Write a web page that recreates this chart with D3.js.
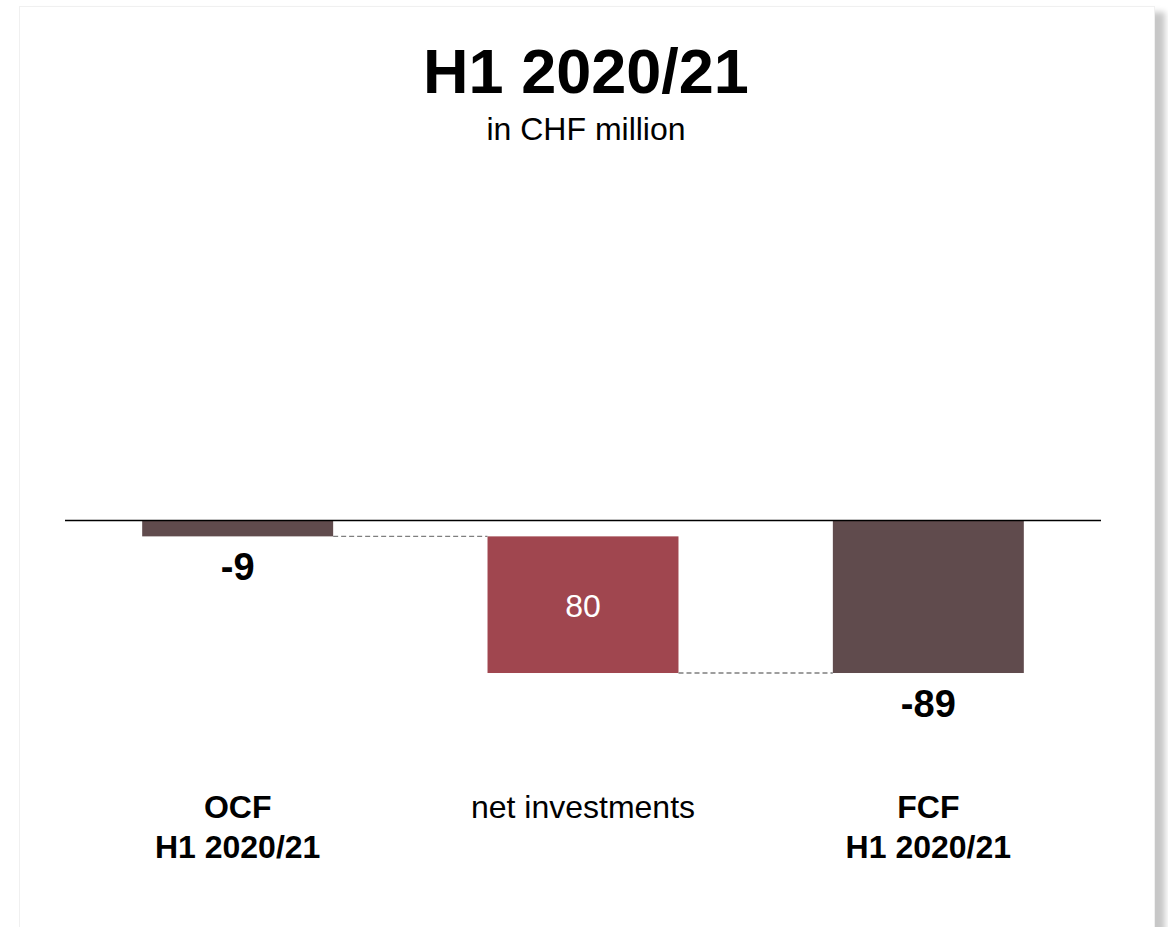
<!DOCTYPE html>
<html>
<head>
<meta charset="utf-8">
<script src="https://cdn.jsdelivr.net/npm/d3@7"></script>
<style>
  html, body { margin: 0; padding: 0; background: #ffffff; }
  body { width: 1168px; height: 927px; position: relative; overflow: hidden; }
  #card {
    position: absolute; left: 19px; top: 6px; width: 1134px; height: 960px;
    background: #ffffff; border: 1px solid #f0f0f0;
    box-shadow: 10px 6px 6px rgba(0,0,0,0.22);
  }
  svg { position: absolute; left: 0; top: 0; }
  text { font-family: "Liberation Sans", Arial, sans-serif; }
</style>
</head>
<body>
<div id="card"></div>
<svg id="chart" width="1168" height="927"></svg>
<script>
// Waterfall: operating cash flow, net investments, free cash flow (CHF million)
const categories = ["OCF|H1 2020/21", "net investments", "FCF|H1 2020/21"];
const boldCategory = [true, false, true];
const kinds = ["total", "delta", "total"];
const values = [-9, 80, -89];           // net investments shown as outflow of 80
const valueLabels = ["-9", "80", "-89"];
const barColors = ["#604b4d", "#a0464f", "#604b4d"];

const svg = d3.select("#chart");

const x = d3.scaleBand()
  .domain(categories)
  .range([65, 1101])
  .paddingInner(0.447)
  .paddingOuter(0.2235);

const y = d3.scaleLinear()
  .domain([-100, 0])
  .range([691.8, 521]);

// running start/end of each bar
let running = 0;
const bars = categories.map((c, i) => {
  let start, end;
  if (kinds[i] === "total") { start = 0; end = values[i]; running = values[i]; }
  else { start = running; end = running - values[i]; running = end; }
  return { c, i, start, end };
});

// title
svg.append("text").attr("x", 586).attr("y", 93).attr("text-anchor", "middle")
  .attr("font-size", 63).attr("font-weight", "bold").attr("fill", "#000")
  .text("H1 2020/21");
svg.append("text").attr("x", 586).attr("y", 140).attr("text-anchor", "middle")
  .attr("font-size", 32).attr("fill", "#000")
  .text("in CHF million");

// bars
svg.selectAll("rect.bar").data(bars).enter().append("rect")
  .attr("class", "bar")
  .attr("x", d => x(d.c))
  .attr("width", x.bandwidth())
  .attr("y", d => y(Math.max(d.start, d.end)))
  .attr("height", d => Math.abs(y(d.start) - y(d.end)))
  .attr("fill", (d, i) => barColors[i]);

// dashed connectors between consecutive bars
for (let i = 0; i < bars.length - 1; i++) {
  const level = bars[i].end;
  svg.append("line")
    .attr("x1", x(bars[i].c) + x.bandwidth())
    .attr("x2", x(bars[i + 1].c))
    .attr("y1", y(level)).attr("y2", y(level))
    .attr("stroke", "#7f7f7f").attr("stroke-width", 1.3)
    .attr("stroke-dasharray", "5,3");
}

// zero line
svg.append("line")
  .attr("x1", 65).attr("x2", 1101)
  .attr("y1", y(0) - 0.5).attr("y2", y(0) - 0.5)
  .attr("stroke", "#000").attr("stroke-width", 1.6);

// value labels
bars.forEach((d, i) => {
  const cx = x(d.c) + x.bandwidth() / 2;
  if (kinds[i] === "total") {
    svg.append("text").attr("x", cx).attr("y", y(d.end) + 44)
      .attr("text-anchor", "middle").attr("font-size", 38).attr("font-weight", "bold")
      .attr("fill", "#000").text(valueLabels[i]);
  } else {
    svg.append("text").attr("x", cx).attr("y", (y(d.start) + y(d.end)) / 2 + 12)
      .attr("text-anchor", "middle").attr("font-size", 32)
      .attr("fill", "#fff").text(valueLabels[i]);
  }
});

// category labels
categories.forEach((c, i) => {
  const cx = x(c) + x.bandwidth() / 2;
  const lines = c.split("|");
  const t = svg.append("text").attr("x", cx).attr("y", 818)
    .attr("text-anchor", "middle").attr("font-size", 32)
    .attr("font-weight", boldCategory[i] ? "bold" : "normal").attr("fill", "#000");
  lines.forEach((ln, k) => {
    t.append("tspan").attr("x", cx).attr("dy", k === 0 ? 0 : 40).text(ln);
  });
});
</script>
</body>
</html>
